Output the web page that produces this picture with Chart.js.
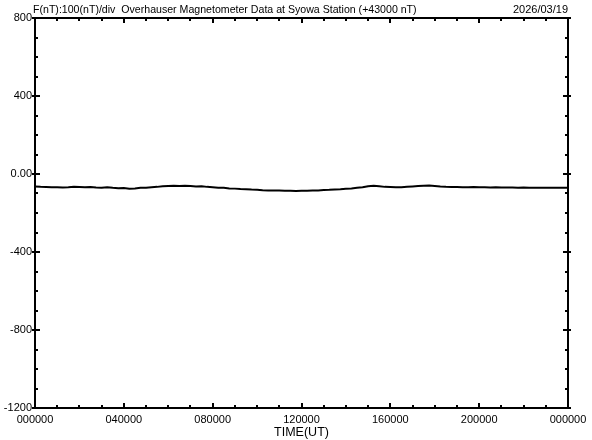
<!DOCTYPE html>
<html>
<head>
<meta charset="utf-8">
<script src="https://cdn.jsdelivr.net/npm/chart.js@4/dist/chart.umd.min.js"></script>
<style>
  html, body { margin: 0; padding: 0; background: #ffffff; }
  #wrap { width: 592px; height: 440px; position: relative; }
</style>
</head>
<body>
<div id="wrap"><canvas id="c" width="592" height="440"></canvas></div>
<script>
// ---- data ----
const chartTitle = "F(nT):100(nT)/div  Overhauser Magnetometer Data at Syowa Station (+43000 nT)";
const chartDate = "2026/03/19";
const xAxisTitle = "TIME(UT)";
const sampleStepHours = 0.25; // one value every 15 minutes, starting 00:00 UT
// F minus 43000 nT, every 15 minutes from 00:00 to 24:00 UT
const fValues = [
  -64, -66, -67, -68, -68, -69, -68, -66, -67, -68, -67, -69,
  -70, -68, -71, -73, -72, -75, -74, -71, -70, -68, -66, -63,
  -61, -60, -61, -60, -62, -64, -63, -66, -68, -70, -71, -74,
  -75, -77, -78, -80, -81, -83, -84, -85, -85, -86, -86, -87,
  -86, -86, -85, -84, -82, -81, -79, -78, -76, -74, -71, -68,
  -63, -60, -63, -66, -67, -68, -68, -66, -64, -62, -60, -59,
  -61, -64, -66, -67, -67, -68, -68, -67, -68, -68, -69, -68,
  -69, -69, -69, -70, -69, -70, -70, -70, -70, -71, -71, -71,
  -71
];
const xTickHours = [0, 4, 8, 12, 16, 20, 24];
const xTickLabels = ["000000", "040000", "080000", "120000", "160000", "200000", "000000"];
const yTickValues = [-1200, -800, -400, 0, 400, 800];
const yTickLabels = ["-1200", "-800", "-400", "0.00", "400", "800"];

const points = fValues.map((v, i) => ({ x: i * sampleStepHours, y: v }));

const FONT = "'Liberation Sans', Arial, sans-serif";

const framePlugin = {
  id: 'frame',
  afterDraw(chart) {
    const ctx = chart.ctx;
    const a = chart.chartArea;
    const xs = chart.scales.x, ys = chart.scales.y;
    ctx.save();
    ctx.strokeStyle = '#000';
    ctx.fillStyle = '#000';
    // frame
    ctx.lineWidth = 2;
    ctx.strokeRect(a.left, a.top, a.right - a.left, a.bottom - a.top);
    // x ticks (every hour, major every 4h), inward, top and bottom
    ctx.lineWidth = 2;
    for (let h = 0; h <= 24; h++) {
      const px = Math.round(xs.getPixelForValue(h));
      const major = h % 4 === 0;
      const len = major ? 5 : 3;
      ctx.beginPath();
      ctx.moveTo(px, a.bottom); ctx.lineTo(px, a.bottom - len);
      ctx.moveTo(px, a.top); ctx.lineTo(px, a.top + len);
      ctx.stroke();
    }
    // y ticks (every 100, major every 400)
    for (let v = -1200; v <= 800; v += 100) {
      const py = Math.round(ys.getPixelForValue(v));
      const major = v % 400 === 0;
      ctx.beginPath();
      if (major) {
        ctx.moveTo(a.left - 3, py); ctx.lineTo(a.left + 5, py);
        ctx.moveTo(a.right + 3, py); ctx.lineTo(a.right - 5, py);
      } else {
        ctx.moveTo(a.left, py); ctx.lineTo(a.left + 3, py);
        ctx.moveTo(a.right, py); ctx.lineTo(a.right - 3, py);
      }
      ctx.stroke();
    }
    // title and date
    ctx.font = '10.6px ' + FONT;
    ctx.textBaseline = 'alphabetic';
    ctx.textAlign = 'left';
    ctx.fillText(chartTitle, a.left - 2, 13);
    ctx.font = '11px ' + FONT;
    ctx.textAlign = 'right';
    ctx.fillText(chartDate, a.right, 13);
    ctx.restore();
  }
};

new Chart(document.getElementById('c'), {
  type: 'line',
  data: {
    datasets: [{
      data: points,
      borderColor: '#000000',
      borderWidth: 2,
      pointRadius: 0,
      tension: 0,
      fill: false
    }]
  },
  options: {
    responsive: false,
    animation: false,
    devicePixelRatio: 1,
    layout: { padding: { top: 18, right: 24, left: 0, bottom: 0 } },
    plugins: { legend: { display: false }, tooltip: { enabled: false }, title: { display: false } },
    scales: {
      x: {
        type: 'linear',
        min: 0, max: 24,
        afterFit(s) { s.height = 32; },
        afterBuildTicks(s) { s.ticks = xTickHours.map(v => ({ value: v })); },
        grid: { display: false, drawTicks: false },
        border: { display: false },
        ticks: {
          maxRotation: 0, autoSkip: false, padding: 5,
          color: '#000', font: { family: FONT, size: 11 },
          callback: (v) => { const i = xTickHours.indexOf(v); return i >= 0 ? xTickLabels[i] : ''; }
        },
        title: { display: true, text: xAxisTitle, color: '#000', font: { family: FONT, size: 12.5 }, padding: { top: 0, bottom: 0 } }
      },
      y: {
        type: 'linear',
        min: -1200, max: 800,
        afterFit(s) { s.width = 35; },
        afterBuildTicks(s) { s.ticks = yTickValues.map(v => ({ value: v })); },
        grid: { display: false, drawTicks: false },
        border: { display: false },
        ticks: {
          padding: 3, autoSkip: false,
          color: '#000', font: { family: FONT, size: 11 },
          callback: (v) => { const i = yTickValues.indexOf(v); return i >= 0 ? yTickLabels[i] : ''; }
        }
      }
    }
  },
  plugins: [framePlugin]
});
</script>
</body>
</html>
